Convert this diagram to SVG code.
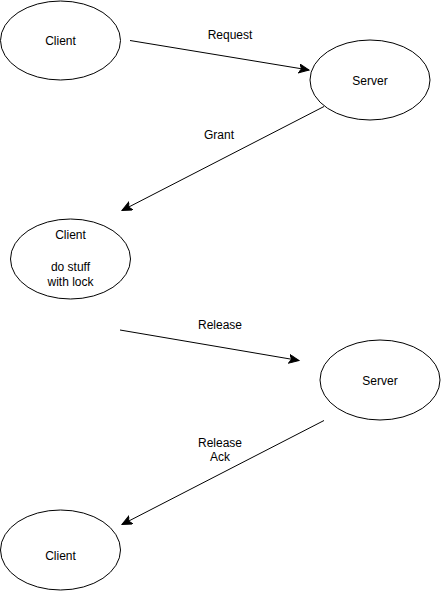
<svg xmlns="http://www.w3.org/2000/svg" width="441" height="591" viewBox="0 0 441 591">
<defs>
<style>
.node ellipse{fill:#ffffff;stroke:#000000;stroke-width:1}
text{font-family:"Liberation Sans",Arial,sans-serif;font-size:12px;fill:#000000;text-anchor:middle}
.edge line{stroke:#000000;stroke-width:1;fill:none}
</style>
<marker id="arrow" markerUnits="userSpaceOnUse" markerWidth="12" markerHeight="10" refX="10" refY="4.5" orient="auto">
<path d="M0,0 L10,4.5 L0,9 L2.5,4.5 z" fill="#000000" stroke="#000000" stroke-width="1"/>
</marker>
</defs>
<rect width="441" height="591" fill="#ffffff"/>
<g id="connectors" class="edge">
<line x1="130" y1="40.5" x2="309" y2="70" marker-end="url(#arrow)"/>
<line x1="324" y1="106.5" x2="122" y2="210.5" marker-end="url(#arrow)"/>
<line x1="120" y1="330" x2="299" y2="360.5" marker-end="url(#arrow)"/>
<line x1="324" y1="420.5" x2="122" y2="524.5" marker-end="url(#arrow)"/>
</g>
<g id="label-request"><text x="230" y="39">Request</text></g>
<g id="label-grant"><text x="219" y="139">Grant</text></g>
<g id="label-release"><text x="220" y="329">Release</text></g>
<g id="label-release-ack"><text x="220" y="447">Release</text><text x="220" y="461">Ack</text></g>
<g id="client1" class="node"><ellipse cx="60.5" cy="40.5" rx="60" ry="39.5"/><text x="60.5" y="45">Client</text></g>
<g id="server1" class="node"><ellipse cx="370" cy="80" rx="60" ry="40"/><text x="370" y="84.5">Server</text></g>
<g id="client2" class="node"><ellipse cx="70.5" cy="259" rx="60" ry="40"/><text x="70.5" y="239">Client</text><text x="70.5" y="270.5">do stuff</text><text x="70.5" y="286">with lock</text></g>
<g id="server2" class="node"><ellipse cx="380" cy="380" rx="60" ry="40"/><text x="380" y="384.5">Server</text></g>
<g id="client3" class="node"><ellipse cx="60.5" cy="550" rx="60" ry="40"/><text x="60.5" y="559.5">Client</text></g>
</svg>
